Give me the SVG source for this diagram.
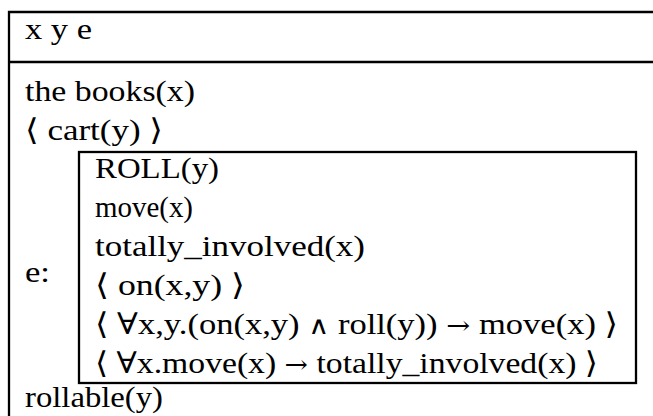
<svg xmlns="http://www.w3.org/2000/svg" width="653" height="416" viewBox="0 0 653 416">
  <style>
    .frame { fill: none; stroke: #000; stroke-width: 2.3; }
    .t { font-family: "Liberation Serif", "DejaVu Serif", serif; font-size: 30px; fill: #000; }
    .sym { font-family: "DejaVu Serif", serif; font-size: 25px; }
  </style>
  <rect width="653" height="416" fill="#fff"/>

  <!-- outer DRS box: header with referents, then conditions -->
  <g id="drs-outer">
    <path class="frame" d="M 670 12 H 9 V 430"/>
    <path class="frame" d="M 9 62 H 670"/>
    <text class="t" x="25" y="39" textLength="67" lengthAdjust="spacingAndGlyphs">x y e</text>
    <text class="t" x="25" y="101" textLength="170" lengthAdjust="spacingAndGlyphs">the books(x)</text>
    <text class="t" x="25" y="140" textLength="138" lengthAdjust="spacingAndGlyphs">⟨ cart(y) ⟩</text>
    <text class="t" x="25" y="282" textLength="25" lengthAdjust="spacingAndGlyphs">e:</text>
    <text class="t" x="25" y="407" textLength="138" lengthAdjust="spacingAndGlyphs">rollable(y)</text>
  </g>

  <!-- embedded box for event e -->
  <g id="drs-event">
    <rect class="frame" x="79" y="152" width="557" height="231"/>
    <text class="t" x="95" y="178" textLength="124" lengthAdjust="spacingAndGlyphs">ROLL(y)</text>
    <text class="t" x="95" y="217" textLength="98" lengthAdjust="spacingAndGlyphs">move(x)</text>
    <text class="t" x="95" y="256" textLength="270" lengthAdjust="spacingAndGlyphs">totally_involved(x)</text>
    <text class="t" x="95" y="295" textLength="150" lengthAdjust="spacingAndGlyphs">⟨ on(x,y) ⟩</text>
    <text class="t" x="95" y="334" textLength="523" lengthAdjust="spacingAndGlyphs">⟨ ∀x,y.(on(x,y) <tspan class="sym">∧</tspan> roll(y)) <tspan class="sym">→</tspan> move(x) ⟩</text>
    <text class="t" x="95" y="373" textLength="503" lengthAdjust="spacingAndGlyphs">⟨ ∀x.move(x) <tspan class="sym">→</tspan> totally_involved(x) ⟩</text>
  </g>

  <g id="connectors"/>
</svg>
